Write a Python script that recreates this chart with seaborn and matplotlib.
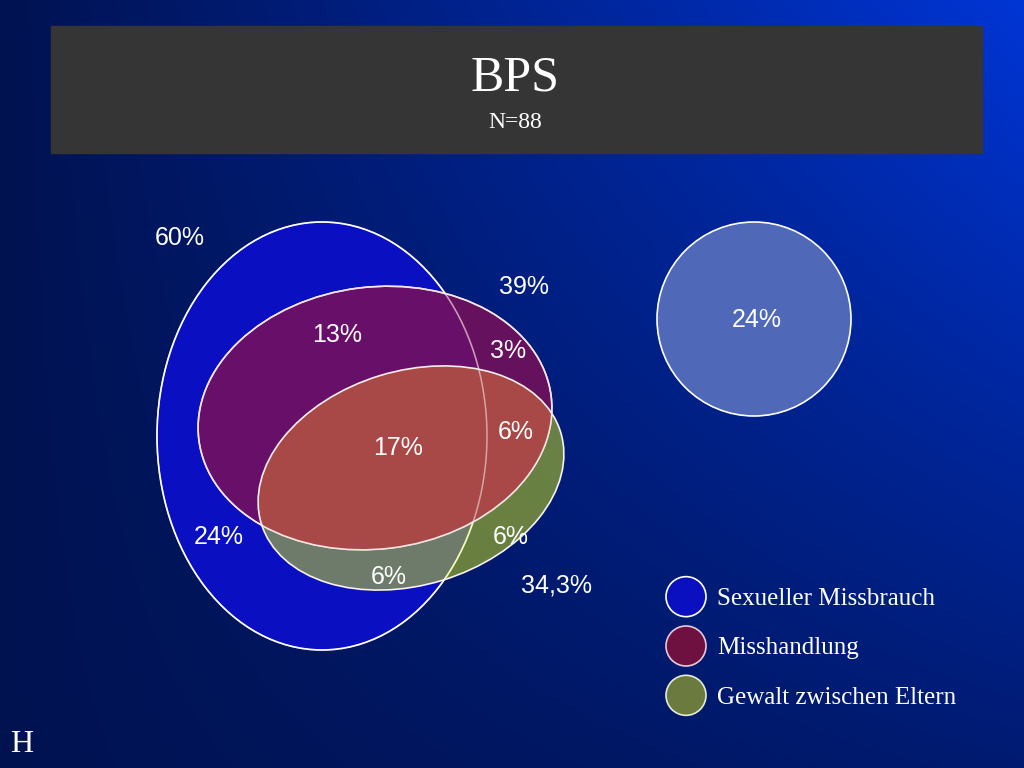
import numpy as np
import pandas as pd
import seaborn as sns
import matplotlib.pyplot as plt
from matplotlib.patches import Ellipse, Circle, Rectangle

sns.set_theme(style="white")
plt.rcParams['font.family'] = ['Liberation Sans', 'DejaVu Sans']

# chart content
title = "BPS"
subtitle = "N=88"
corner_mark = "H"
categories = ["Sexueller Missbrauch", "Misshandlung", "Gewalt zwischen Eltern"]
set_totals = ["60%", "39%", "34,3%"]
region_values = ["13%", "3%", "17%", "6%", "24%", "6%", "6%"]
separate_value = "24%"

# layout (pixel coordinates of the slide)
total_pos = [(180, 238), (524, 287), (556, 585)]
region_pos = [(337, 335), (508, 351), (398, 448), (516, 432),
              (219, 537), (511, 537), (389, 577)]
fills = ["#0a10c2", "#7c0f58", "#d2e614"]
legend_fills = ["#0a10c0", "#6e1040", "#6b7a3e"]
legend_edges = ["#ffffff", "#e8c8d8", "#e4ecd4"]

fig = plt.figure(figsize=(10.24, 7.68), dpi=100)
ax = fig.add_axes([0, 0, 1, 1])
ax.set_xlim(0, 1024)
ax.set_ylim(768, 0)
ax.axis('off')

# background gradient: bright blue top right, navy left and bottom
xx, yy = np.meshgrid(np.linspace(0, 1, 512), np.linspace(0, 1, 384))
t = xx * (1 - 0.75 * yy)
dark = np.array([0, 18, 80]) / 255
bright = np.array([0, 53, 213]) / 255
bg = dark + t[..., None] * (bright - dark)
ax.imshow(bg, extent=(0, 1024, 768, 0), aspect='auto', zorder=0)

# title box
ax.add_patch(Rectangle((51, 26), 931, 127, color="#353535", zorder=1))
ax.text(515, 78, title, ha='center', va='center', color='white',
        fontsize=36, family=['Liberation Serif'], zorder=2)
ax.text(515, 122, subtitle, ha='center', va='center', color='white',
        fontsize=17, family=['Liberation Serif'], zorder=2)

# venn shapes
blue = Ellipse((322, 436), 330, 428, facecolor=fills[0],
               edgecolor='white', lw=1.2, zorder=2)
ax.add_patch(blue)
purple = Ellipse((375, 418), 355, 262, angle=-7, facecolor=fills[1],
                 alpha=0.83, edgecolor='white', lw=1.2, zorder=3)
ax.add_patch(purple)
olive = Ellipse((411, 478), 313, 214, angle=-17, facecolor=fills[2],
                alpha=0.5, edgecolor='none', zorder=4)
ax.add_patch(olive)
red = Ellipse((411, 478), 313, 214, angle=-17, facecolor="#aa4349",
              alpha=0.9, edgecolor='none', zorder=5)
ax.add_patch(red)
red.set_clip_path(purple)
ax.add_patch(Ellipse((322, 436), 330, 428, fill=False,
                     edgecolor='white', alpha=0.5, lw=1.1, zorder=6))
ax.add_patch(Ellipse((375, 418), 355, 262, angle=-7, fill=False,
                     edgecolor='#f6e4ec', lw=1.1, zorder=6))
ax.add_patch(Ellipse((411, 478), 313, 214, angle=-17, fill=False,
                     edgecolor='#f8f0ec', lw=1.2, zorder=6))

# separate circle
ax.add_patch(Circle((754, 319), 97, facecolor="#5068b8",
                    edgecolor='white', lw=1.2, zorder=2))
ax.text(757, 320, separate_value, ha='center', va='center', color='white',
        fontsize=18, zorder=7)

for label, (x, y) in zip(set_totals, total_pos):
    ax.text(x, y, label, ha='center', va='center', color='white',
            fontsize=18, zorder=7)
for label, (x, y) in zip(region_values, region_pos):
    ax.text(x, y, label, ha='center', va='center', color='white',
            fontsize=18, zorder=7)

ax.text(22, 745, corner_mark, ha='center', va='center', color='white',
        fontsize=23, family=['Liberation Serif'], zorder=7)

# legend drawn as a categorical scatter
leg = pd.DataFrame({"x": [0] * len(categories), "Kategorie": categories})
lax = fig.add_axes([660 / 1024, 1 - 720 / 768, 340 / 1024, 148 / 768])
sns.scatterplot(data=leg, x="x", y="Kategorie", hue="Kategorie",
                palette=dict(zip(categories, legend_fills)), s=830,
                edgecolor=legend_edges, linewidth=1.2, legend=False, ax=lax)
lax.set_xlim(-26, 314)
lax.set_ylim(2.5, -0.5)
lax.axis('off')
for i, name in enumerate(categories):
    lax.text(31, i + 0.05, name, ha='left', va='center', color='white',
             fontsize=18, family=['Liberation Serif'])

fig.savefig("out.png", dpi=100)
